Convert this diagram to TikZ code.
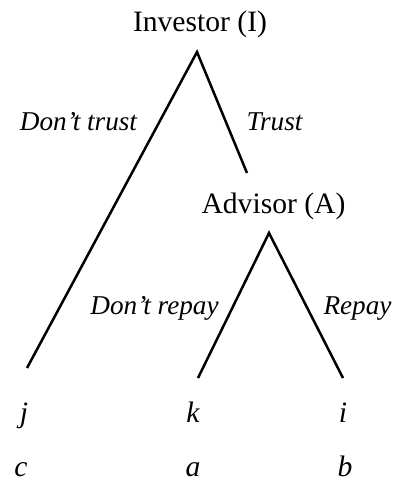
\documentclass[tikz,border=0pt]{standalone}
\usepackage{fontspec}
\setmainfont{Liberation Serif}[ItalicFont={Liberation Serif Italic}]
\begin{document}
\begin{tikzpicture}[x=0.5pt,y=-0.5pt,
  player/.style={inner sep=0pt,anchor=base,font=\fontsize{14.8}{17}\selectfont},
  move/.style={inner sep=0pt,anchor=base,font=\fontsize{13.6}{15}\selectfont\itshape},
  pay/.style={inner sep=0pt,anchor=base,font=\fontsize{14.8}{17}\selectfont\itshape},
  branch/.style={line width=1.25pt,line cap=butt}]
\useasboundingbox (0,0) rectangle (395,481);
% players
\node[player] (inv) at (200,32) {Investor (I)};
\node[player] (adv) at (273.5,213) {Advisor (A)};
% tree points
\coordinate (r1) at (197,52);
\coordinate (l1) at (27,368);
\coordinate (t1) at (247,173);
\coordinate (r2) at (269,233);
\coordinate (l2) at (198,378);
\coordinate (t2) at (343,378);
\draw[branch] (l1) -- (r1) -- (t1);
\draw[branch] (l2) -- (r2) -- (t2);
% move labels
\node[move] (dt) at (78.5,130) {Don’t trust};
\node[move] (tr) at (274.5,130) {Trust};
\node[move] (dr) at (154.5,314) {Don’t repay};
\node[move] (rp) at (357.5,314) {Repay};
% payoffs
\node[pay] (j) at (24,422) {j};
\node[pay] (k) at (193,422) {k};
\node[pay] (i) at (343,422) {i};
\node[pay] (c) at (21,476) {c};
\node[pay] (a) at (193,476) {a};
\node[pay] (b) at (345,476) {b};
\end{tikzpicture}
\end{document}
